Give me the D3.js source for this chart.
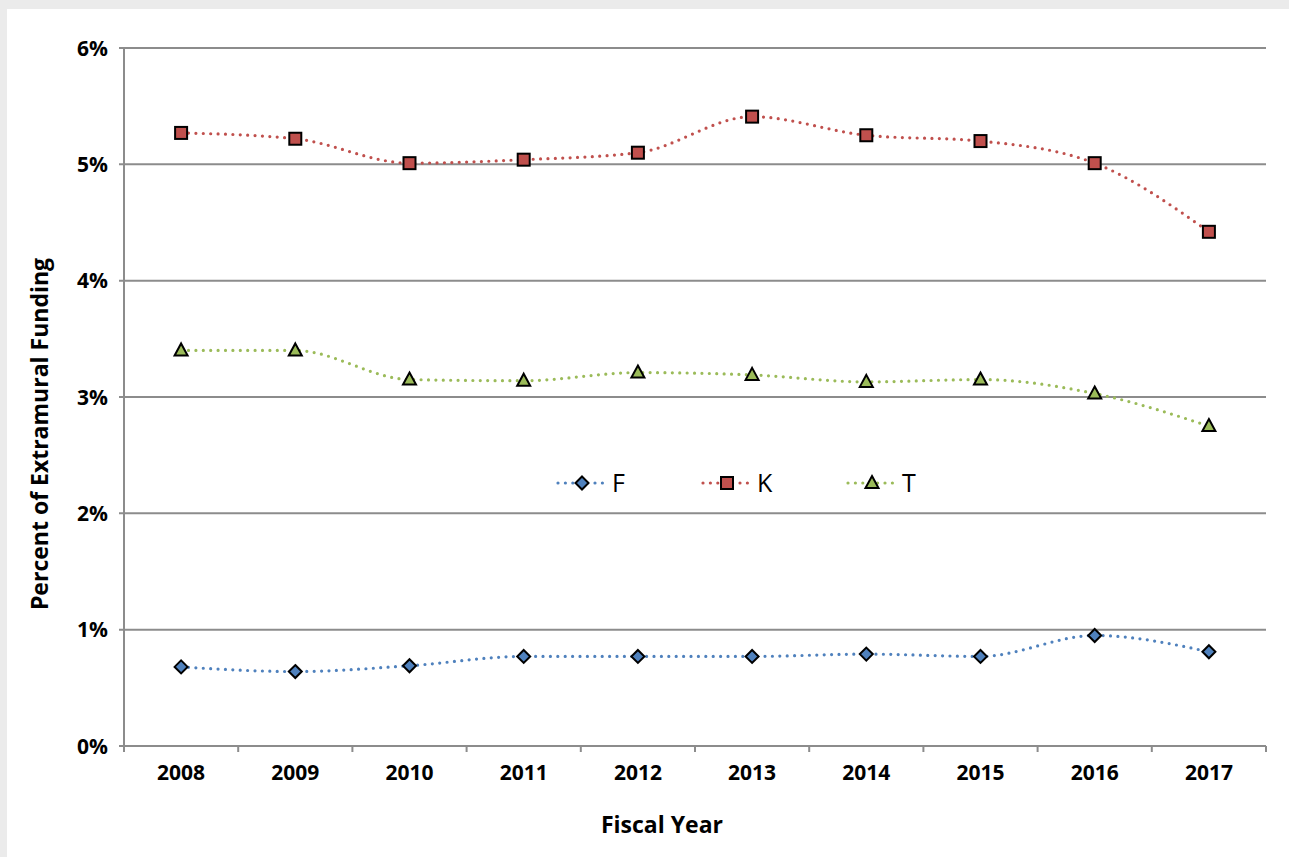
<!DOCTYPE html>
<html><head><meta charset="utf-8">
<script src="https://cdn.jsdelivr.net/npm/d3@7"></script>
<style>
html,body{margin:0;padding:0;background:#ebebeb;}
svg{display:block;}
</style></head>
<body>
<svg id="chart" width="1289" height="857"></svg>
<script>
const years = ["2008","2009","2010","2011","2012","2013","2014","2015","2016","2017"];
const valuesF = [0.68,0.64,0.69,0.77,0.77,0.77,0.79,0.77,0.95,0.81];
const valuesK = [5.27,5.22,5.01,5.04,5.10,5.41,5.25,5.20,5.01,4.42];
const valuesT = [3.40,3.40,3.15,3.14,3.21,3.19,3.13,3.15,3.03,2.75];
const yTicks = [0,1,2,3,4,5,6];
const seriesNames = ["F","K","T"];
const seriesColors = ["#4f81bd","#c0504d","#9bbb59"];
const seriesShapes = ["diamond","square","triangle"];

const series = seriesNames.map((n,i)=>({name:n, values:[valuesF,valuesK,valuesT][i], color:seriesColors[i], shape:seriesShapes[i]}));

const svg = d3.select("#chart");
svg.append("rect").attr("x",7).attr("y",9).attr("width",1289-7).attr("height",857-9).attr("fill","#fff");

const L=124, R=1266, T=48, B=746;
const x = d3.scaleBand().domain(years).range([L,R]);
const y = d3.scaleLinear().domain([0,6]).range([B,T]);
const font = "'Open Sans', 'DejaVu Sans', sans-serif";
const grid = "#8c8c8c";

// gridlines
svg.append("g").selectAll("line").data(yTicks).join("line")
  .attr("x1",L-5).attr("x2",R).attr("y1",d=>y(d)).attr("y2",d=>y(d))
  .attr("stroke",grid).attr("stroke-width",2);
// y axis line
svg.append("line").attr("x1",L).attr("x2",L).attr("y1",T).attr("y2",B).attr("stroke",grid).attr("stroke-width",2);
// x ticks at band boundaries
const bounds = years.map(d=>x(d)).concat([R]);
svg.append("g").selectAll("line").data(bounds).join("line")
  .attr("x1",d=>d).attr("x2",d=>d).attr("y1",B).attr("y2",B+6)
  .attr("stroke",grid).attr("stroke-width",2);

// y tick labels
svg.append("g").selectAll("text").data(yTicks).join("text")
  .attr("x",108).attr("y",d=>y(d)).attr("dy","0.36em").attr("text-anchor","end")
  .attr("font-family",font).attr("font-weight","bold").attr("font-size",21).attr("fill","#000")
  .text(d=>d+"%");
// x tick labels
svg.append("g").selectAll("text").data(years).join("text")
  .attr("x",d=>x(d)+x.bandwidth()/2).attr("y",780).attr("text-anchor","middle")
  .attr("font-family",font).attr("font-weight","bold").attr("font-size",21).attr("fill","#000")
  .text(d=>d);
// axis titles
svg.append("text").attr("x",662).attr("y",833).attr("text-anchor","middle")
  .attr("font-family",font).attr("font-weight","bold").attr("font-size",23).text("Fiscal Year");
svg.append("text").attr("transform","translate(48,434) rotate(-90)").attr("text-anchor","middle")
  .attr("font-family",font).attr("font-weight","bold").attr("font-size",23).text("Percent of Extramural Funding");

function marker(g, shape, color){
  if(shape==="square"){
    g.append("rect").attr("x",-6).attr("y",-6).attr("width",12).attr("height",12)
     .attr("fill",color).attr("stroke","#000").attr("stroke-width",2);
  } else if(shape==="diamond"){
    g.append("path").attr("d","M0,-6.5L6.5,0L0,6.5L-6.5,0Z")
     .attr("fill",color).attr("stroke","#000").attr("stroke-width",2);
  } else {
    g.append("path").attr("d","M0,-7L6.5,5L-6.5,5Z")
     .attr("fill",color).attr("stroke","#000").attr("stroke-width",2).attr("stroke-linejoin","miter");
  }
}

const line = d3.line().x((d,i)=>x(years[i])+x.bandwidth()/2).y(d=>y(d)).curve(d3.curveMonotoneX);
series.forEach(s=>{
  svg.append("path").attr("d",line(s.values)).attr("fill","none")
    .attr("stroke",s.color).attr("stroke-width",3.2).attr("stroke-linecap","round").attr("stroke-dasharray","0,7.4");
  s.values.forEach((v,i)=>{
    const g = svg.append("g").attr("transform",`translate(${x(years[i])+x.bandwidth()/2},${y(v)})`);
    marker(g,s.shape,s.color);
  });
});

// legend
const legendX = [558,703,848];
series.forEach((s,i)=>{
  const lx = legendX[i], ly = 483;
  svg.append("line").attr("x1",lx).attr("x2",lx+47).attr("y1",ly).attr("y2",ly)
    .attr("stroke",s.color).attr("stroke-width",3.2).attr("stroke-linecap","round").attr("stroke-dasharray","0,7.4");
  const g = svg.append("g").attr("transform",`translate(${lx+24},${ly})`);
  marker(g,s.shape,s.color);
  svg.append("text").attr("x",lx+54).attr("y",ly).attr("dy","0.36em")
    .attr("font-family",font).attr("font-size",25).attr("fill","#000").text(s.name);
});
</script>
</body></html>
